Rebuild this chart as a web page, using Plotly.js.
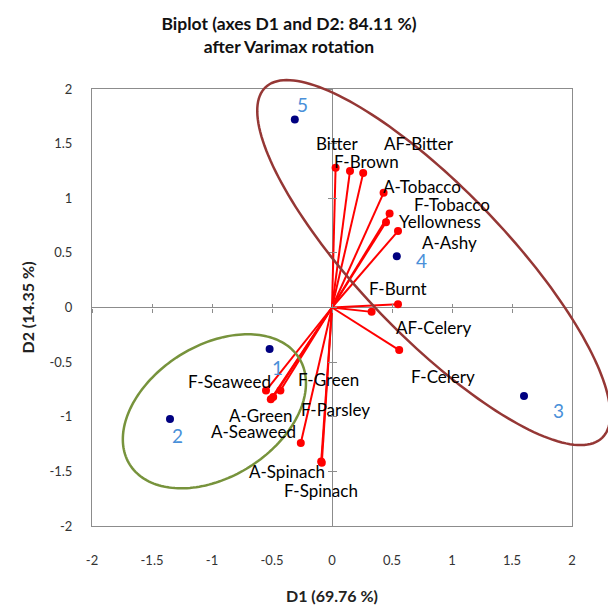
<!DOCTYPE html>
<html><head><meta charset="utf-8">
<script src="https://cdn.plot.ly/plotly-3.0.1.min.js"></script>
<style>html,body{margin:0;padding:0;background:#fff}</style>
</head><body><div id="chart" style="width:608px;height:608px"></div>
<script>
// ---- data ----
const varNames = ['Bitter','F-Brown','AF-Bitter','A-Tobacco','F-Tobacco','Yellowness','A-Ashy','F-Burnt','AF-Celery','F-Celery','F-Seaweed','F-Green','A-Green','A-Seaweed','F-Parsley','A-Spinach','F-Spinach'];
const varD1 = [0.03, 0.15, 0.26, 0.43, 0.48, 0.45, 0.55, 0.55, 0.33, 0.56, -0.55, -0.43, -0.51, -0.49, -0.26, -0.09, -0.085];
const varD2 = [1.28, 1.25, 1.23, 1.05, 0.86, 0.78, 0.70, 0.03, -0.04, -0.39, -0.76, -0.76, -0.84, -0.82, -1.24, -1.41, -1.42];
const obsNames = ['1','2','3','4','5'];
const obsD1 = [-0.52, -1.35, 1.60, 0.54, -0.31];
const obsD2 = [-0.38, -1.02, -0.81, 0.47, 1.72];
const xTicks = [-2,-1.5,-1,-0.5,0,0.5,1,1.5,2];
const xTickText = ['-2','-1.5','-1','-0.5','0','0.5','1','1.5','2'];
const yTicks = [-2,-1.5,-1,-0.5,0,0.5,1,1.5,2];
const yTickText = ['-2','-1.5','-1','-0.5','0','0.5','1','1.5','2'];

// ---- label placement (pixel offsets from each point; x right, y down) ----
const varLabelDX = [1, 16, 56, 38, 62, 54, 51, 0, 62, 44, -37, 48, -10, -20, 35, -34, -1];
const varLabelDY = [-24, -9, -30, -6, -9, -1, 11, -16, 16, 26, -9, -11, 16, 34, -33, 10, 28];
const obsLabelDX = [8, 7, 34, 25, 8];
const obsLabelDY = [18, 17, 15, 4, -15];

// ---- ellipse geometry (center + semi-axis vectors, data units) ----
const brownEllipse = {cx: 0.848, cy: 0.411, ux: 1.403, uy: -1.604, vx: -0.442, vy: -0.466};
const greenEllipse = {cx: -0.98, cy: -0.95, ux: 0.705, uy: 0.488, vx: -0.292, vy: 0.509};

const X_RANGE = [-2, 2], Y_RANGE = [-2, 2];
// ellipse outline as a paper-referenced path so it may run past the plot frame
function ellipsePath(e){
  let p = '';
  for(let i=0;i<=180;i++){
    const t = 2*Math.PI*i/180;
    const dx = e.cx + e.ux*Math.cos(t) + e.vx*Math.sin(t);
    const dy = e.cy + e.uy*Math.cos(t) + e.vy*Math.sin(t);
    const px = (dx - X_RANGE[0])/(X_RANGE[1]-X_RANGE[0]);
    const py = (dy - Y_RANGE[0])/(Y_RANGE[1]-Y_RANGE[0]);
    p += (i===0?'M':'L') + px.toFixed(5) + ',' + py.toFixed(5);
  }
  return p + 'Z';
}

const FONT = 'Lato, "Open Sans", sans-serif';
const vx=[], vy=[];
varD1.forEach((d,i)=>{ vx.push(0, d, null); vy.push(0, varD2[i], null); });

const traces = [
  {type:'scatter', mode:'lines', x:vx, y:vy, line:{color:'#ff0000', width:2}, hoverinfo:'skip', showlegend:false},
  {type:'scatter', mode:'markers', x:varD1, y:varD2, marker:{color:'#ff0000', size:8}, showlegend:false},
  {type:'scatter', mode:'markers', x:obsD1, y:obsD2, marker:{color:'#000080', size:8}, showlegend:false},
  {type:'scatter', x:[], y:[], xaxis:'x2', yaxis:'y', showlegend:false},
  {type:'scatter', x:[], y:[], xaxis:'x3', yaxis:'y', showlegend:false},
  {type:'scatter', x:[], y:[], xaxis:'x', yaxis:'y2', showlegend:false},
  {type:'scatter', x:[], y:[], xaxis:'x', yaxis:'y3', showlegend:false}
];

const annotations = [];
varNames.forEach((n,i)=>{
  annotations.push({x:varD1[i], y:varD2[i], xref:'x', yref:'y', text:n, showarrow:false,
    xshift:varLabelDX[i], yshift:-varLabelDY[i], font:{family:FONT, size:17, color:'#000'}});
});
obsNames.forEach((n,i)=>{
  annotations.push({x:obsD1[i], y:obsD2[i], xref:'x', yref:'y', text:n, showarrow:false,
    xshift:obsLabelDX[i], yshift:-obsLabelDY[i], font:{family:FONT, size:19, color:'#4a90d9'}});
});

const shapes = [
  {type:'path', xref:'paper', yref:'paper', path:ellipsePath(brownEllipse), line:{color:'#953735', width:2.5}, fillcolor:'rgba(0,0,0,0)', layer:'above'},
  {type:'path', xref:'paper', yref:'paper', path:ellipsePath(greenEllipse), line:{color:'#77933c', width:2.5}, fillcolor:'rgba(0,0,0,0)', layer:'above'}
];

const gridCol = '#8c8c8c';
const tickAxis = (ticks, extra) => Object.assign({range:[-2,2], tickvals:ticks, ticklen:4, tickcolor:gridCol, tickwidth:1,
  showticklabels:false, showline:false, showgrid:false, zeroline:false, anchor:'free', position:0.5, fixedrange:true}, extra);

const layout = {
  width:608, height:608,
  margin:{l:92, r:36, t:89, b:82},
  paper_bgcolor:'#fff', plot_bgcolor:'#fff',
  showlegend:false,
  title:{text:'<b>Biplot (axes D1 and D2: 84.11 %)<br>after Varimax rotation</b>', x:289/608, xref:'container', xanchor:'center',
    y:1-30/608, yref:'container', yanchor:'top', font:{family:FONT, size:17.5, color:'#111'}},
  xaxis:{range:X_RANGE, tickvals:xTicks, ticktext:xTickText, ticks:'outside', ticklen:22, tickcolor:'rgba(0,0,0,0)',
    showgrid:false, zeroline:true, zerolinecolor:gridCol, zerolinewidth:1, showline:true, mirror:true, linecolor:gridCol, linewidth:1,
    tickfont:{family:FONT, size:13, color:'#333'}, fixedrange:true,
    title:{text:'<b>D1 (69.76 %)</b>', font:{family:FONT, size:16, color:'#222'}, standoff:24}},
  yaxis:{range:Y_RANGE, tickvals:yTicks, ticktext:yTickText, ticks:'outside', ticklen:16, tickcolor:'rgba(0,0,0,0)',
    showgrid:false, zeroline:true, zerolinecolor:gridCol, zerolinewidth:1, showline:true, mirror:true, linecolor:gridCol, linewidth:1,
    tickfont:{family:FONT, size:13, color:'#333'}, fixedrange:true,
    title:{text:'<b>D2 (14.35 %)</b>', font:{family:FONT, size:16, color:'#222'}, standoff:10}},
  xaxis2: tickAxis(xTicks, {overlaying:'x', ticks:'inside', side:'bottom'}),
  xaxis3: tickAxis(xTicks, {overlaying:'x', ticks:'outside', side:'bottom'}),
  yaxis2: tickAxis(yTicks, {overlaying:'y', ticks:'inside', side:'left'}),
  yaxis3: tickAxis(yTicks, {overlaying:'y', ticks:'outside', side:'left'}),
  shapes:shapes,
  annotations:annotations
};

Plotly.newPlot('chart', traces, layout, {displayModeBar:false, staticPlot:true});
</script>
</body></html>
